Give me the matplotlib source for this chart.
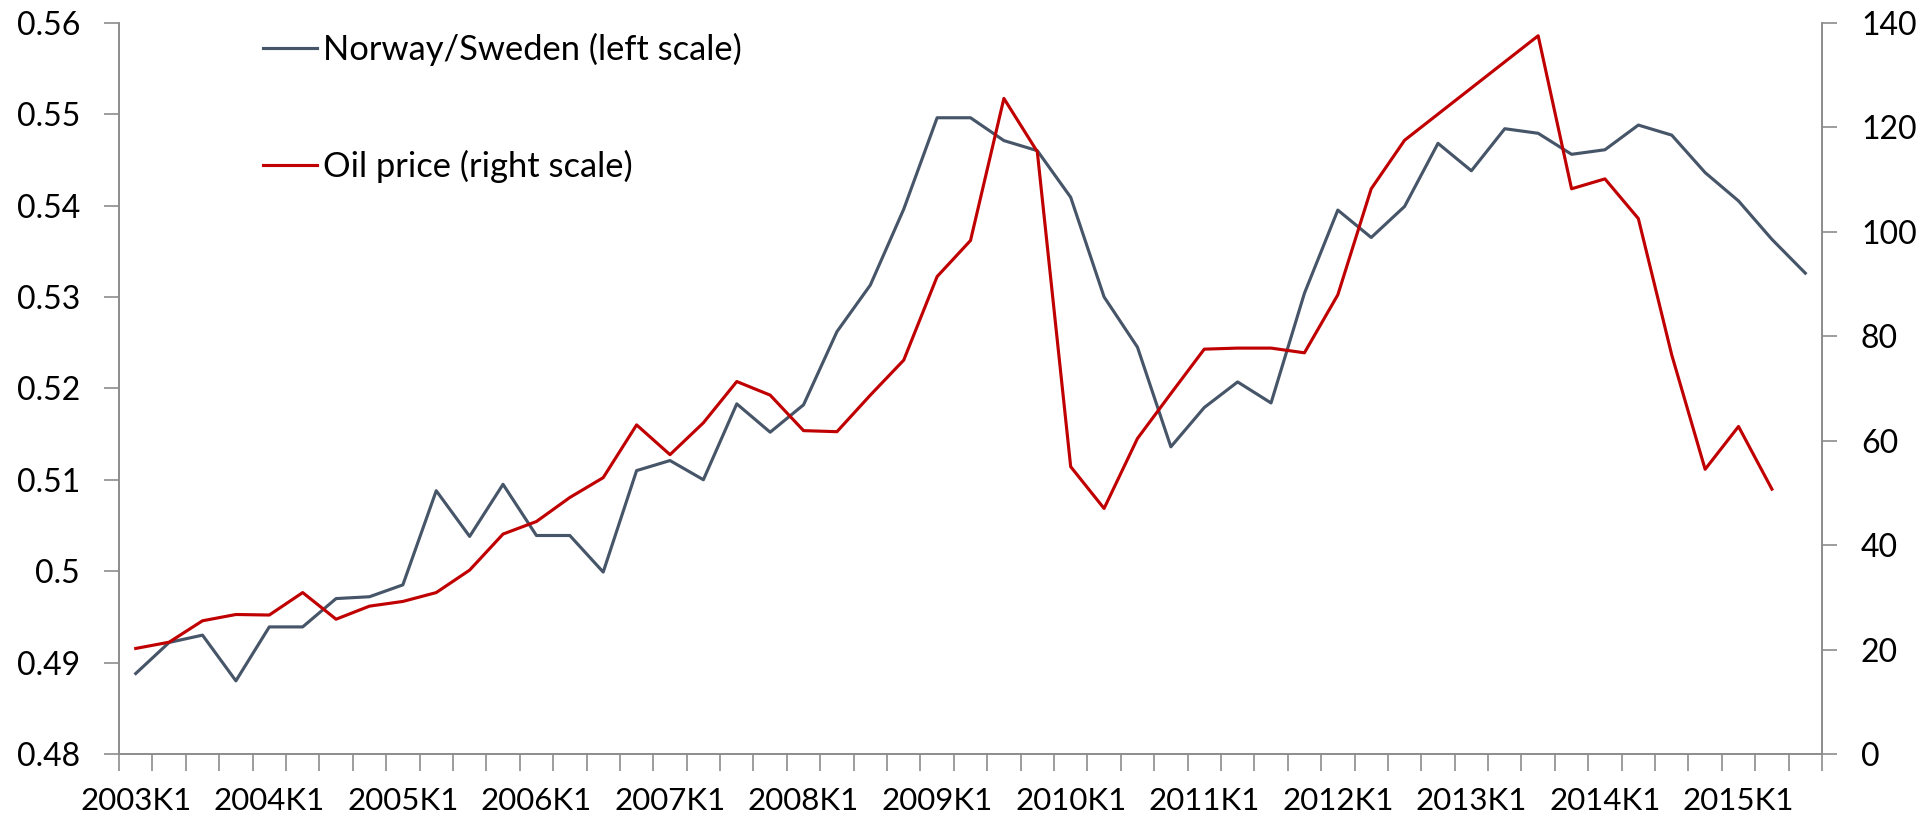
import matplotlib
matplotlib.use("Agg")
import matplotlib.pyplot as plt
from matplotlib.ticker import FixedLocator, FuncFormatter

plt.rcParams['font.family'] = ['Lato', 'DejaVu Sans']

# quarterly categories 2003K1 .. 2015K3
years = list(range(2003, 2016))
quarters = [f"{y}K{q}" for y in years for q in range(1, 5)][:51]

norway_sweden = [0.4888, 0.4922, 0.4930, 0.4880, 0.4939, 0.4939, 0.4970, 0.4972,
                 0.4985, 0.5088, 0.5038, 0.5095, 0.5039, 0.5039, 0.4999, 0.5110,
                 0.5121, 0.5100, 0.5183, 0.5152, 0.5182, 0.5262, 0.5313, 0.5396,
                 0.5496, 0.5496, 0.5471, 0.5460, 0.5409, 0.5300, 0.5245, 0.5136,
                 0.5179, 0.5207, 0.5184, 0.5304, 0.5395, 0.5365, 0.5399, 0.5468,
                 0.5438, 0.5484, 0.5479, 0.5456, 0.5461, 0.5488, 0.5477, 0.5436,
                 0.5405, 0.5363, 0.5326]

oil_price = [20.2, 21.4, 25.5, 26.7, 26.6, 30.9, 25.8, 28.3,
             29.2, 30.9, 35.2, 42.1, 44.5, 49.1, 52.9, 63.0,
             57.3, 63.4, 71.3, 68.7, 61.9, 61.7, 68.7, 75.4,
             91.4, 98.3, 125.5, 115.3, 55.0, 47.0, 60.4, 69.0,
             77.5, 77.7, 77.7, 76.8, 87.9, 108.2, 117.5, 122.5,
             127.5, 132.5, 137.5, 108.2, 110.1, 102.5, 76.4, 54.5,
             62.7, 50.7]

label_names = ["Norway/Sweden (left scale)", "Oil price (right scale)"]
ns_color = "#475569"
oil_color = "#C00000"
spine_color = "#8C8C8C"

fig = plt.figure(figsize=(19.26, 8.19), dpi=100)
ax = fig.add_axes([0.0618, 0.0794, 0.946 - 0.0618, 0.9723 - 0.0794])
ax2 = ax.twinx()

x_ns = list(range(len(norway_sweden)))
x_oil = list(range(len(oil_price)))
l1, = ax.plot(x_ns, norway_sweden, color=ns_color, lw=2.25, label=label_names[0])
l2, = ax2.plot(x_oil, oil_price, color=oil_color, lw=2.25, label=label_names[1])

ax.set_xlim(-0.5, len(quarters) - 0.5)
ax.set_ylim(0.48, 0.56)
ax2.set_ylim(0, 140)

ax.set_yticks([0.48 + 0.01 * i for i in range(9)])
ax.yaxis.set_major_formatter(FuncFormatter(lambda v, p: f"{v:.2f}".rstrip('0').rstrip('.')))
ax2.set_yticks(list(range(0, 141, 20)))

# category boundary ticks (marks) and labels every year
ax.xaxis.set_major_locator(FixedLocator([i - 0.5 for i in range(len(quarters) + 1)]))
ax.xaxis.set_major_formatter(FuncFormatter(lambda v, p: ""))
lab_pos = list(range(0, len(quarters), 4))
ax.xaxis.set_minor_locator(FixedLocator(lab_pos))
ax.set_xticklabels([quarters[i] for i in lab_pos], minor=True)

for a in (ax, ax2):
    a.spines['top'].set_visible(False)
    for s in ('left', 'right', 'bottom'):
        a.spines[s].set_color(spine_color)
        a.spines[s].set_linewidth(1.2)

ax.tick_params(axis='x', which='major', length=12, width=1.2, color=spine_color, direction='out')
ax.tick_params(axis='x', which='minor', length=0, pad=24, labelsize=22.5)
ax.tick_params(axis='y', length=11, width=1.2, color=spine_color, labelsize=23, pad=17)
ax2.tick_params(axis='y', length=11, width=1.2, color=spine_color, labelsize=23, pad=17)

leg = ax.legend(handles=[l1, l2], loc='upper left', bbox_to_anchor=(0.1366, 0.9597),
                bbox_transform=fig.transFigure, frameon=False, fontsize=24.8,
                borderpad=0, borderaxespad=0, handlelength=1.57, handletextpad=0.16,
                labelspacing=2.42)

fig.savefig("out.png", dpi=100)
